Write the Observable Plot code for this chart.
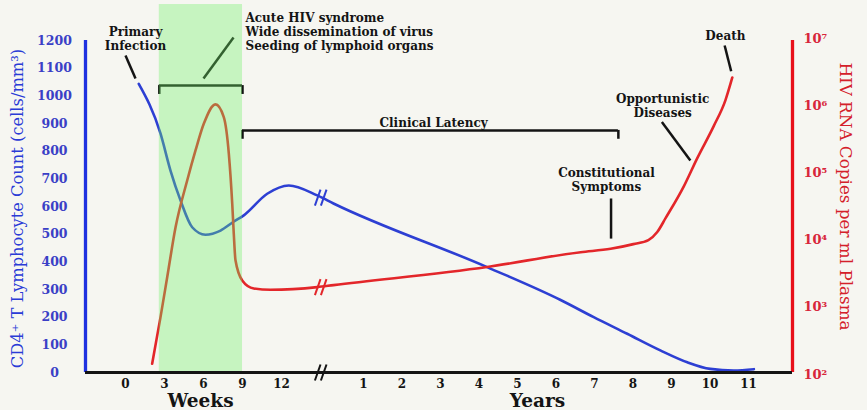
<!DOCTYPE html>
<html><head><meta charset="utf-8">
<script src="https://cdn.jsdelivr.net/npm/d3@7"></script>
<script src="https://cdn.jsdelivr.net/npm/@observablehq/plot@0.6"></script>
<style>
html,body{margin:0;padding:0;background:#f6f6f1;}
#chart{width:867px;height:410px;}
</style></head><body><div id="chart"></div>
<script>
// ---- Data ----
// x axis is broken: weeks 0–12, then years 1–11 on a second segment
const yearOrigin = 100;            // years are placed at yearOrigin + year on the broken axis
const weekTicks = [0, 3, 6, 9, 12];
const yearTicks = [1, 2, 3, 4, 5, 6, 7, 8, 9, 10, 11];
const cellTicks = [0, 100, 200, 300, 400, 500, 600, 700, 800, 900, 1000, 1100, 1200];
const rnaTicks = [2, 3, 4, 5, 6, 7]; // log10 copies

// CD4+ T cell count (cells/mm3)
const cd4Weeks = [[1.02, 1043], [2.69, 864], [3.46, 730], [4.23, 622], [5.13, 525], [6.15, 498],
  [7.31, 513], [8.31, 545], [9.1, 568], [10.9, 646], [12.56, 676], [14.75, 640]];
const cd4Years = [[0.22, 611], [4.21, 381], [6.12, 262], [6.98, 200], [7.85, 140], [8.71, 80],
  [9.41, 37], [10.01, 13], [10.62, 7], [11.14, 12]];

// HIV RNA (log10 copies per ml plasma)
const rnaWeeks = [[2.05, 2.16], [2.69, 2.85], [3.21, 3.45], [3.85, 4.19], [4.75, 4.89], [5.38, 5.33],
  [6.02, 5.73], [6.92, 6.02], [7.56, 5.83], [7.95, 5.28], [8.21, 4.54], [8.33, 4.09], [8.46, 3.70],
  [8.98, 3.40], [9.87, 3.28], [11.15, 3.26], [14.75, 3.30]];
const rnaYears = [[0.22, 3.33], [4.21, 3.60], [6.64, 3.82], [7.42, 3.87], [8.01, 3.94], [8.40, 4.00],
  [8.63, 4.12], [8.85, 4.33], [9.32, 4.80], [9.67, 5.22], [10.10, 5.70], [10.40, 6.08], [10.58, 6.42]];

// phases
const acutePhase = {start: 2.6, end: 9.0};                 // weeks (green band)
const latencyPhase = {start: 9.0, endYear: 7.62};

// annotations (position in weeks "w" or years "y", level on the cell-count axis)
const annotationsCentered = [
  {text: "Primary\nInfection", w: 0.77, v: 1207},
  {text: "Clinical Latency", y: 2.82, v: 904},
  {text: "Constitutional\nSymptoms", y: 7.31, v: 699},
  {text: "Opportunistic\nDiseases", y: 8.77, v: 965},
  {text: "Death", y: 10.40, v: 1218}
];
const annotationsLeft = [
  {text: "Acute HIV syndrome\nWide dissemination of virus\nSeeding of lymphoid organs", w: 9.23, v: 1232}
];
const leaders = [
  {x1: 0, x2: 0.77, v1: 1146, v2: 1063},
  {x1: 8.31, x2: 6.0, v1: 1211, v2: 1063},
  {x1: yearOrigin + 7.43, x2: yearOrigin + 7.43, v1: 629, v2: 484},
  {x1: yearOrigin + 8.75, x2: yearOrigin + 9.49, v1: 905, v2: 766},
  {x1: yearOrigin + 10.38, x2: yearOrigin + 10.55, v1: 1182, v2: 1089}
];

// ---- scales ----
const xStart = -3.077, weekBreak = 15.23, xEnd = yearOrigin + 12.143;
const breakU = 15.15;
const yRna = d3.scaleLog([1e2, 1e7], [-7.2, 1207.3]); // maps copies onto the cell-count axis
const sup = {2: "²", 3: "³", 4: "⁴", 5: "⁵", 6: "⁶", 7: "⁷"};

const cd4 = [...cd4Weeks.map(([t, v]) => ({u: t, v})), ...cd4Years.map(([t, v]) => ({u: yearOrigin + t, v}))];
const rna = [...rnaWeeks.map(([t, l]) => ({u: t, c: 10 ** l})), ...rnaYears.map(([t, l]) => ({u: yearOrigin + t, c: 10 ** l}))];
const posOf = a => ({...a, u: a.w !== undefined ? a.w : yearOrigin + a.y});

const blue = "#2d3fd3", red = "#e3262a", dark = "#141414";
const font = "DejaVu Serif";

const brk = (v, color) => [-3, 3].map(dx => Plot.link([v], {
  x1: () => breakU - 0.35, x2: () => breakU + 0.35, y1: d => d - 29, y2: d => d + 29,
  dx, stroke: color, strokeWidth: 2
}));
const annStyle = {x: "u", y: "v", text: "text", lineHeight: 1.17, fontWeight: "bold", fontSize: 12, fill: dark, fontFamily: font};

const chart = Plot.plot({
  width: 867, height: 410,
  marginLeft: 85, marginRight: 75, marginTop: 40, marginBottom: 38,
  style: {background: "#f6f6f1", fontFamily: font},
  x: {type: "linear", domain: [xStart, weekBreak, yearOrigin, xEnd], range: [85, 323, 324.5, 792]},
  y: {domain: [0, 1200], axis: null},
  marks: [
    Plot.line(cd4, {x: "u", y: "v", stroke: blue, strokeWidth: 2.6, curve: "monotone-x"}),
    Plot.line(rna, {x: "u", y: d => yRna(d.c), stroke: red, strokeWidth: 2.6, curve: "monotone-x"}),
    ...brk(632, blue),
    ...brk(yRna(10 ** 3.30), red),
    // brackets
    Plot.ruleY([1037], {x1: acutePhase.start, x2: acutePhase.end, stroke: dark, strokeWidth: 2.5}),
    Plot.ruleX([acutePhase.start, acutePhase.end], {y1: 1005, y2: 1037, stroke: dark, strokeWidth: 2.5}),
    Plot.ruleY([875], {x1: latencyPhase.start, x2: yearOrigin + latencyPhase.endYear, stroke: dark, strokeWidth: 2.5}),
    Plot.ruleX([latencyPhase.start, yearOrigin + latencyPhase.endYear], {y1: 843, y2: 875, stroke: dark, strokeWidth: 2.5}),
    Plot.link(leaders, {x1: "x1", x2: "x2", y1: "v1", y2: "v2", stroke: dark, strokeWidth: 2.5}),
    // acute phase band (semi-transparent overlay)
    Plot.rect([acutePhase], {x1: "start", x2: "end", y1: 0, y2: 1330, fill: "#6ef064", fillOpacity: 0.35}),
    // axis lines
    Plot.ruleX([xStart], {y1: 0, y2: 1200, stroke: "#1f31e0", strokeWidth: 3.3}),
    Plot.ruleX([xEnd], {y1: 0, y2: 1200, stroke: "#e8101a", strokeWidth: 3.3}),
    Plot.ruleY([0], {x1: xStart, x2: xEnd, stroke: dark, strokeWidth: 3}),
    ...brk(0, dark),
    // left ticks
    Plot.text(cellTicks, {frameAnchor: "left", y: d => d, dx: -31, textAnchor: "middle", text: d => String(d),
      fill: "#3a3fc6", fontWeight: "bold", fontSize: 12.5, fontFamily: font}),
    // right ticks
    Plot.text(rnaTicks, {frameAnchor: "right", y: d => yRna(10 ** d), dx: 11, textAnchor: "start",
      text: d => "10" + sup[d], fill: "#d8263a", fontWeight: "bold", fontSize: 13, fontFamily: font}),
    // x ticks
    Plot.axisX({ticks: [...weekTicks, ...yearTicks.map(y => yearOrigin + y)],
      tickFormat: d => d >= yearOrigin ? String(d - yearOrigin) : String(d),
      tickSize: 0, tickPadding: 7, fontWeight: "bold", fontSize: 12, fill: dark, label: null}),
    Plot.text([{u: 5.77, t: "Weeks"}, {u: yearOrigin + 5.52, t: "Years"}], {x: "u", text: "t",
      frameAnchor: "bottom", dy: 29, lineAnchor: "middle", textAnchor: "middle",
      fontWeight: "bold", fontSize: 18.5, fill: dark, fontFamily: font}),
    // axis titles
    Plot.text(["CD4⁺ T Lymphocyte Count (cells/mm³)"], {frameAnchor: "left", dx: -68, dy: 2, rotate: -90,
      textAnchor: "middle", lineAnchor: "middle", fill: "#2a3bd6", fontSize: 16.3, fontFamily: font}),
    Plot.text(["HIV RNA Copies per ml Plasma"], {frameAnchor: "right", dx: 53, dy: -10, rotate: 90,
      textAnchor: "middle", lineAnchor: "middle", fill: "#d4202a", fontSize: 16.8, fontFamily: font}),
    // annotations
    Plot.text(annotationsCentered.map(posOf), {...annStyle, textAnchor: "middle"}),
    Plot.text(annotationsLeft.map(posOf), {...annStyle, textAnchor: "start"})
  ]
});
document.getElementById("chart").append(chart);
</script></body></html>
